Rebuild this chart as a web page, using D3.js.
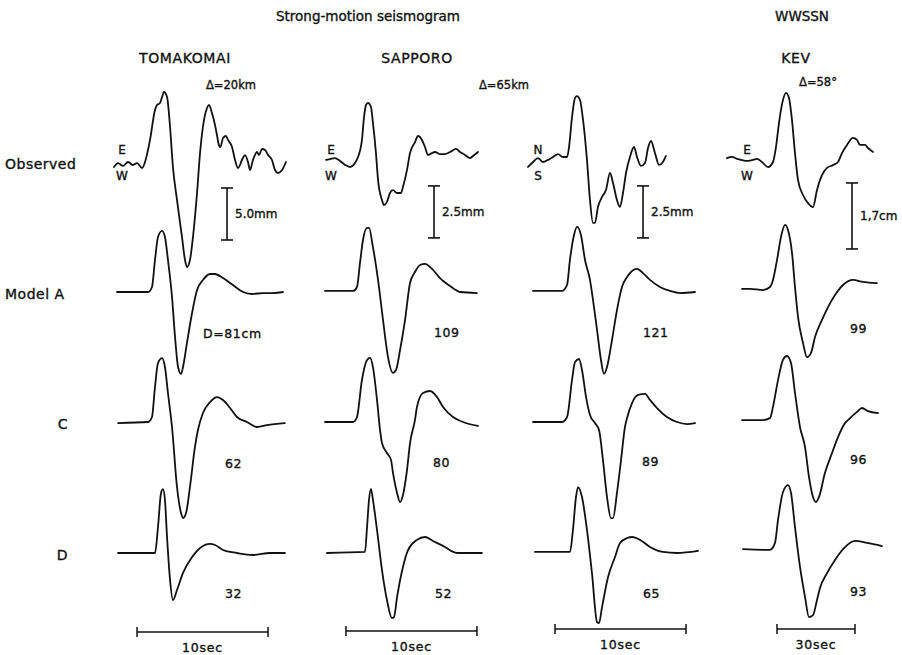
<!DOCTYPE html>
<html>
<head>
<meta charset="utf-8">
<script src="https://cdn.jsdelivr.net/npm/d3@7/dist/d3.min.js"></script>
<style>
  body { margin: 0; background: #fff; }
  svg text { font-family: "DejaVu Sans", sans-serif; fill: #111; stroke: #111; stroke-width: 0.35px; }
</style>
</head>
<body>
<svg id="fig" width="902" height="655"></svg>
<script>
// ---- Figure text ----
const figTitle = "Strong-motion seismogram";
const networkTitle = "WWSSN";
const stations = ["TOMAKOMAI", "SAPPORO", "KEV"];
const distances = ["Δ=20km", "Δ=65km", "Δ=58°"];
const components = [["E", "W"], ["E", "W"], ["N", "S"], ["E", "W"]];
const rowLabels = ["Observed", "Model A", "C", "D"];

// ---- Scales per trace column (amplitude bar, time bar) ----
const ampScale = [5.0, 2.5, 2.5, 1.7];          // mm, mm, mm, cm
const ampLabels = ["5.0mm", "2.5mm", "2.5mm", "1,7cm"];
const timeScale = [10, 10, 10, 30];             // seconds
const timeLabels = ["10sec", "10sec", "10sec", "30sec"];

// ---- Dislocation annotations per model row ----
const modelALabels = ["D=81cm", "109", "121", "99"];
const modelCLabels = ["62", "80", "89", "96"];
const modelDLabels = ["32", "52", "65", "93"];

// ---- Traces: [time (s), amplitude (mm, or cm for KEV)] ----
const obsTomakomai = [[-0.23,-0.48],[0.08,-0.10],[0.46,-0.38],[0.84,0],[1.22,-0.29],[1.53,-0.10],[1.91,-0.58],[2.14,0],[2.52,2.12],[2.90,5.00],[3.05,5.48],[3.28,5.67],[3.44,6.25],[3.59,6.73],[3.82,6.25],[4.05,3.37],[4.27,-0.48],[4.58,-3.65],[4.96,-7.21],[5.19,-9.42],[5.34,-10.10],[5.57,-9.42],[5.80,-7.21],[6.11,-2.98],[6.34,0.87],[6.56,3.37],[6.87,5.19],[7.02,5.48],[7.25,4.71],[7.48,3.56],[7.63,2.60],[7.78,1.63],[7.90,1.44],[8.09,2.31],[8.32,2.50],[8.47,2.12],[8.78,1.44],[9.01,0.19],[9.24,-0.58],[9.54,0.19],[9.77,0.67],[10.00,0],[10.15,-0.77],[10.38,0.19],[10.69,0.96],[10.84,0.67],[11.07,1.25],[11.30,1.15],[11.53,0.67],[11.83,0.19],[12.06,-0.77],[12.29,-1.06],[12.60,-0.77],[12.90,0]];
const modelATomakomai = [[0,0],[2.37,0],[2.67,0.48],[2.90,3.08],[3.13,5.29],[3.44,5.87],[3.66,5.29],[3.89,3.08],[4.20,-0.48],[4.43,-4.33],[4.66,-7.21],[4.89,-7.88],[5.04,-7.21],[5.34,-4.90],[5.73,-2.02],[6.11,0.19],[6.56,1.15],[7.10,1.73],[7.48,1.73],[8.09,1.35],[8.85,0.67],[9.62,0],[10.31,-0.19],[11.15,-0.10],[11.91,-0.10],[12.67,0]];
const modelCTomakomai = [[0.08,-0.10],[2.37,0],[2.67,0.48],[2.90,3.37],[3.13,5.67],[3.44,6.15],[3.66,5.29],[3.89,2.79],[4.20,-0.48],[4.58,-6.25],[4.89,-8.75],[5.04,-9.23],[5.27,-8.75],[5.57,-6.25],[5.95,-2.40],[6.18,-0.77],[6.56,0.87],[7.10,1.92],[7.63,2.40],[8.09,2.12],[8.63,1.35],[9.16,0.48],[9.92,0],[10.69,-0.48],[11.45,-0.29],[12.82,-0.10]];
const modelDTomakomai = [[0.08,0],[2.90,0],[3.13,2.50],[3.36,5.77],[3.51,6.15],[3.66,5.10],[3.82,1.54],[4.05,-2.60],[4.27,-4.52],[4.58,-3.56],[5.04,-1.92],[5.73,-0.38],[6.34,0.48],[7.10,0.87],[7.48,0.77],[8.09,0.29],[9.16,0],[10.38,-0.19],[11.68,0],[12.82,0]];

const obsSapporoEW = [[0.08,0.10],[0.38,0.14],[0.76,0.19],[1.15,0.05],[1.53,-0.14],[1.91,-0.24],[2.29,-0.05],[2.52,0.24],[2.82,1.06],[2.98,2.16],[3.13,2.74],[3.28,2.84],[3.51,2.64],[3.66,1.88],[3.89,0.43],[4.05,-0.87],[4.35,-1.83],[4.50,-2.07],[4.73,-1.92],[4.96,-1.49],[5.19,-1.35],[5.50,-1.49],[5.80,-1.49],[5.95,-1.20],[6.26,-0.38],[6.49,0.43],[6.87,0.96],[7.10,1.25],[7.40,1.06],[7.63,0.72],[7.86,0.34],[8.17,0.43],[8.40,0.48],[8.78,0.38],[9.16,0.38],[9.54,0.48],[10.00,0.63],[10.31,0.48],[10.69,0.34],[11.07,0.19],[11.30,0.29],[11.68,0.48]];
const modelASapporoEW = [[0,0.05],[2.14,0.05],[2.44,0.24],[2.67,1.39],[2.90,2.50],[3.21,3.08],[3.36,3.08],[3.66,2.16],[4.05,0.58],[4.43,-1.35],[4.81,-3.13],[5.19,-3.89],[5.42,-3.75],[5.73,-2.79],[6.11,-1.35],[6.49,0.43],[6.87,0.96],[7.25,1.30],[7.63,1.35],[8.17,1.11],[8.78,0.67],[9.54,0.29],[10.31,0],[11.60,-0.05]];
const modelCSapporoEW = [[0,0],[2.14,0],[2.44,0.24],[2.82,2.02],[3.21,2.98],[3.44,3.08],[3.66,2.64],[3.97,1.06],[4.20,-0.38],[4.35,-1.01],[4.73,-1.49],[5.04,-1.83],[5.19,-2.45],[5.50,-3.41],[5.73,-3.85],[5.95,-3.51],[6.26,-2.31],[6.49,-1.01],[6.87,0.10],[7.02,0.72],[7.48,1.39],[8.02,1.49],[8.55,1.20],[9.01,0.72],[9.77,0.24],[10.53,0],[11.68,-0.19]];
const modelDSapporoEW = [[0.15,0],[3.05,0.05],[3.21,1.25],[3.36,2.55],[3.51,3.08],[3.66,2.55],[3.97,1.11],[4.35,-0.82],[4.73,-2.26],[5.11,-3.13],[5.27,-3.08],[5.50,-2.12],[5.95,-0.67],[6.34,0.14],[7.02,0.63],[7.63,0.77],[8.24,0.58],[9.01,0.34],[10.08,0],[11.07,0],[11.98,0]];

const obsSapporoNS = [[-0.38,-0.24],[0,0],[0.38,0.19],[0.76,0],[1.15,0.10],[1.53,0.24],[1.91,0.38],[2.29,0.24],[2.60,0.24],[2.75,0.72],[2.98,2.16],[3.21,3.08],[3.36,3.17],[3.59,2.98],[3.82,2.02],[4.12,0.10],[4.35,-1.83],[4.58,-2.93],[4.73,-2.93],[4.96,-2.16],[5.27,-1.68],[5.57,-1.35],[5.88,-0.53],[6.11,-1.01],[6.41,-1.83],[6.64,-2.16],[6.87,-1.49],[7.10,-0.53],[7.40,0.24],[7.71,0.72],[7.94,0.24],[8.24,-0.19],[8.55,-0.05],[8.78,0.67],[9.01,1.01],[9.31,0.43],[9.62,-0.14],[9.92,0],[10.15,0.29]];
const modelASapporoNS = [[0,0.05],[2.21,0.05],[2.60,0.34],[2.82,1.54],[3.13,2.74],[3.36,3.13],[3.66,2.74],[3.97,1.54],[4.35,0.58],[4.58,-0.38],[4.89,-1.83],[5.19,-3.27],[5.42,-3.94],[5.65,-3.61],[6.03,-2.31],[6.41,-0.87],[6.79,0.24],[7.18,0.72],[7.56,1.01],[7.94,1.11],[8.40,0.91],[8.93,0.58],[9.69,0.24],[10.46,0.05],[11.22,-0.05],[12.37,0]];
const modelCSapporoNS = [[0,0],[2.21,0],[2.60,0.24],[2.98,2.02],[3.21,2.88],[3.51,3.03],[3.74,2.50],[4.05,1.20],[4.35,0.34],[4.73,-0.05],[5.04,-0.38],[5.34,-1.83],[5.65,-3.61],[5.95,-4.62],[6.11,-4.62],[6.41,-3.41],[6.72,-1.83],[7.02,-0.24],[7.18,0.19],[7.56,0.91],[8.02,1.30],[8.55,1.35],[8.93,1.06],[9.47,0.67],[10.23,0.24],[10.99,0],[11.76,-0.10],[12.37,-0.05]];
const modelDSapporoNS = [[0.15,0.05],[2.82,0.05],[3.05,1.11],[3.28,2.69],[3.44,3.17],[3.74,2.69],[4.12,1.11],[4.50,-0.96],[4.89,-3.32],[5.04,-3.37],[5.27,-2.60],[5.73,-1.15],[6.26,-0.19],[6.64,0.48],[7.18,0.72],[7.56,0.77],[8.17,0.63],[8.93,0.29],[9.92,0.05],[10.99,0],[12.60,0.10]];

const obsKev = [[-5.77,0.10],[-3.85,0.13],[-1.92,0.08],[0,0.05],[1.92,0.03],[3.85,0.05],[5.77,0.08],[7.69,0],[10.00,-0.13],[11.92,0],[13.08,0.39],[14.23,1.01],[15.77,1.60],[16.92,1.78],[18.08,1.65],[19.23,1.08],[20.38,0.23],[21.54,-0.46],[23.46,-0.85],[25.38,-1.06],[27.31,-1.16],[28.85,-0.72],[30.77,-0.34],[32.69,-0.15],[35.00,-0.08],[36.92,0],[38.46,0.23],[40.38,0.44],[42.69,0.62],[44.23,0.57],[45.38,0.44],[47.31,0.44],[48.46,0.36],[50.38,0.26]];
const modelAKev = [[0,0.08],[3.08,0.08],[8.08,0.05],[10.77,0.13],[11.92,0.31],[13.46,0.82],[15.00,1.42],[16.54,1.73],[17.69,1.60],[19.23,1.01],[20.38,0.13],[21.54,-0.64],[23.46,-1.31],[25.00,-1.68],[26.54,-1.57],[28.08,-1.16],[30.77,-0.72],[33.08,-0.39],[35.77,-0.08],[38.85,0.18],[42.69,0.31],[46.54,0.26],[51.92,0.23]];
const modelCKev = [[0,0.05],[8.08,0.05],[10.77,0.10],[11.92,0.39],[13.85,1.08],[15.77,1.60],[17.31,1.70],[18.85,1.52],[20.38,0.75],[22.31,-0.13],[24.23,-0.64],[25.77,-1.42],[27.31,-1.93],[28.46,-2.06],[29.62,-1.93],[31.92,-1.31],[34.62,-0.80],[36.92,-0.39],[39.62,-0.03],[40.77,0.05],[44.23,0.26],[46.15,0.36],[48.46,0.28],[52.31,0.23]];
const modelDKev = [[0.38,0.10],[10.77,0.08],[12.69,0.26],[13.85,0.85],[15.77,1.57],[17.69,1.75],[18.85,1.55],[20.38,0.67],[22.31,-0.36],[24.23,-1.13],[25.77,-1.65],[27.31,-1.60],[28.85,-1.21],[30.00,-0.90],[32.69,-0.52],[35.77,-0.18],[39.62,0.15],[43.46,0.31],[48.08,0.26],[53.85,0.18]];

// ---- Layout ----
const W = 902, H = 655;
const colX0 = [117, 325, 533, 742];            // pixel of t = 0 in each column
const colTimePx = [131, 131, 131, 78];          // pixels spanned by the time bar
const colAmpPx = [52, 52, 52, 66];              // pixels spanned by the amplitude bar
const rowBase = [162, 292, 422, 553];           // zero line of each row

const traces = [
  [obsTomakomai, obsSapporoEW, obsSapporoNS, obsKev],
  [modelATomakomai, modelASapporoEW, modelASapporoNS, modelAKev],
  [modelCTomakomai, modelCSapporoEW, modelCSapporoNS, modelCKev],
  [modelDTomakomai, modelDSapporoEW, modelDSapporoNS, modelDKev]
];
const modelLabels = [modelALabels, modelCLabels, modelDLabels];

const svg = d3.select("#fig");
svg.append("rect").attr("width", W).attr("height", H).attr("fill", "#fff");

const xScales = colX0.map((x0, c) =>
  d3.scaleLinear().domain([0, timeScale[c]]).range([x0, x0 + colTimePx[c]]));
const yScales = rowBase.map(base =>
  colAmpPx.map((px, c) => d3.scaleLinear().domain([0, ampScale[c]]).range([base, base - px])));

const line = (xs, ys) => d3.line()
  .x(d => xs(d[0])).y(d => ys(d[1]))
  .curve(d3.curveMonotoneX);

const ink = "#111";
const g = svg.append("g");

// waveforms
traces.forEach((row, r) => row.forEach((tr, c) => {
  g.append("path")
    .attr("d", line(xScales[c], yScales[r][c])(tr))
    .attr("fill", "none").attr("stroke", ink)
    .attr("stroke-width", 1.8).attr("stroke-linejoin", "round").attr("stroke-linecap", "round");
}));

// headings
const txt = (x, y, s, size, anchor, extra) => {
  const t = g.append("text").attr("x", x).attr("y", y).text(s)
    .attr("font-size", size).attr("text-anchor", anchor || "start")
    .attr("dominant-baseline", "central");
  if (extra) extra(t);
  return t;
};
txt(368, 16, figTitle, 13.5, "middle");
txt(802, 16, networkTitle, 13.5, "middle");
const stationX = [185, 417, 796];
stations.forEach((s, i) => txt(stationX[i], 58, s, 14, "middle", t => t.attr("letter-spacing", 0.6).attr("stroke-width", 0.6)));
const distX = [231, 504, 818];
distances.forEach((s, i) => txt(distX[i], i === 2 ? 82 : 85, s, 11.5, "middle"));

// row labels
const rowLabelX = [5, 5, 68, 68];
rowLabels.forEach((s, r) => txt(rowLabelX[r], rowBase[r] + 2, s, 14, r < 2 ? "start" : "end", t => t.attr("letter-spacing", 0.5)));

// component letters beside the observed traces
const compX = [122, 331, 538, 747];
components.forEach((p, c) => {
  txt(compX[c], 150, p[0], 12, "middle");
  txt(compX[c], 176, p[1], 12, "middle");
});

// amplitude bars
const ampBarT = [8.40, 8.32, 8.40, 42.31];
const ampBarTop = [-2.5, -1.15, -1.15, -0.54];
ampScale.forEach((v, c) => {
  const xs = xScales[c], ys = yScales[0][c];
  const x = xs(ampBarT[c]), y1 = ys(ampBarTop[c]), y2 = ys(ampBarTop[c] - v);
  g.append("line").attr("x1", x).attr("x2", x).attr("y1", y1).attr("y2", y2).attr("stroke", ink).attr("stroke-width", 1.6);
  [y1, y2].forEach(y => g.append("line").attr("x1", x - 6).attr("x2", x + 6).attr("y1", y).attr("y2", y).attr("stroke", ink).attr("stroke-width", 1.6));
  txt(x + 8, (y1 + y2) / 2, ampLabels[c], 12, "start");
});

// time bars
const timeBarT = [1.53, 1.60, 1.68, 13.46];
const timeBarY = [632, 631, 629, 629];
timeScale.forEach((v, c) => {
  const xs = xScales[c];
  const x1 = xs(timeBarT[c]), x2 = xs(timeBarT[c] + v), y = timeBarY[c];
  g.append("line").attr("x1", x1).attr("x2", x2).attr("y1", y).attr("y2", y).attr("stroke", ink).attr("stroke-width", 1.5);
  [x1, x2].forEach(x => g.append("line").attr("x1", x).attr("x2", x).attr("y1", y - 5).attr("y2", y + 5).attr("stroke", ink).attr("stroke-width", 1.5));
  txt((x1 + x2) / 2, y + 15, timeLabels[c], 12.5, "middle", t => t.attr("letter-spacing", 0.8));
});

// dislocation values beside the model traces
const labelX = [[203, 434, 643, 850], [225, 433, 642, 850], [225, 435, 643, 850]];
const labelY = [[333, 332, 332, 328], [463, 462, 461, 459], [593, 593, 593, 591]];
modelLabels.forEach((arr, r) => arr.forEach((s, c) =>
  txt(labelX[r][c], labelY[r][c], s, 12.5, "start", t => t.attr("letter-spacing", 0.6))));
</script>
</body>
</html>
